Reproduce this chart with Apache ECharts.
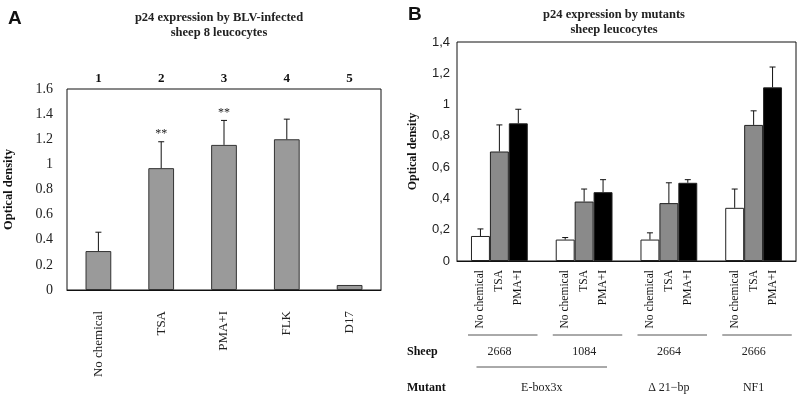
<!DOCTYPE html>
<html><head><meta charset="utf-8">
<script src="https://cdn.jsdelivr.net/npm/echarts@6/dist/echarts.min.js"></script>
<style>html,body{margin:0;padding:0;background:#fff}#c{width:800px;height:405px}</style>
</head><body><div id="c"></div>
<script>
// ---------- Panel A data ----------
const lanesA = ['1', '2', '3', '4', '5'];
const catsA = ['No chemical', 'TSA', 'PMA+I', 'FLK', 'D17'];
const valsA = [0.31, 0.97, 1.155, 1.20, 0.04];
const errA = [0.15, 0.21, 0.195, 0.16, 0];
const starsA = ['', '**', '**', '', ''];

// ---------- Panel B data ----------
const treatmentsB = ['No chemical', 'TSA', 'PMA+I'];
const sheepB = ['2668', '1084', '2664', '2666'];
const mutantNamesB = ['E-box3x', '\u0394 21\u2212bp', 'NF1'];
const mutantFirstB = [0, 2, 3];
const mutantLastB = [1, 2, 3];
const noChemB = [0.16, 0.137, 0.137, 0.34];
const noChemErrB = [0.045, 0.013, 0.043, 0.12];
const tsaB = [0.70, 0.38, 0.37, 0.87];
const tsaErrB = [0.17, 0.08, 0.13, 0.09];
const pmaB = [0.88, 0.44, 0.50, 1.11];
const pmaErrB = [0.09, 0.08, 0.02, 0.13];

const SERIF = '"Liberation Serif","Times New Roman",serif';
const SANS = '"Liberation Sans",Arial,sans-serif';
const CAT_GAP = 0.33;

function errRender(pos, count) {
  return function (params, api) {
    const idx = api.value(0), v = api.value(1), e = api.value(2);
    const star = starsAt(params.seriesIndex, idx);
    const base = api.coord([idx, v]);
    const top = api.coord([idx, v + e]);
    let dx = 0;
    if (count > 1) {
      const band = api.size([1, 0])[0];
      const bw = band * (1 - CAT_GAP) / count;
      dx = (pos - (count - 1) / 2) * bw;
    }
    const x = base[0] + dx;
    const children = [];
    const st = { stroke: '#111', lineWidth: 1 };
    if (e > 0) {
      children.push({ type: 'line', shape: { x1: x, y1: base[1], x2: x, y2: top[1] }, style: st });
      children.push({ type: 'line', shape: { x1: x - 3, y1: top[1], x2: x + 3, y2: top[1] }, style: st });
    }
    if (star) {
      children.push({ type: 'text', x: x, y: top[1] - 2,
        style: { text: star, align: 'center', verticalAlign: 'bottom', font: '12px ' + SERIF, fill: '#222' } });
    }
    return { type: 'group', children: children };
  };
}
let starSeriesIndex = -1;
function starsAt(si, idx) { return si === starSeriesIndex ? starsA[idx] : ''; }

const chart = echarts.init(document.getElementById('c'), null, { renderer: 'canvas' });

const series = [
  { type: 'bar', xAxisIndex: 0, yAxisIndex: 0, data: valsA, barWidth: '41%',
    itemStyle: { color: '#9a9a9a', borderColor: '#333', borderWidth: 1 }, silent: true },
  { type: 'custom', xAxisIndex: 0, yAxisIndex: 0, z: 5, renderItem: errRender(0, 1),
    data: valsA.map((v, i) => [i, v, errA[i]]) }
];
starSeriesIndex = 1;
const colorsB = ['#ffffff', '#8a8a8a', '#000000'];
const valsB = [noChemB, tsaB, pmaB];
const errsB = [noChemErrB, tsaErrB, pmaErrB];
treatmentsB.forEach((t, k) => {
  series.push({ type: 'bar', name: t, xAxisIndex: 2, yAxisIndex: 1, data: valsB[k],
    barGap: '0%', barCategoryGap: (CAT_GAP * 100) + '%',
    itemStyle: { color: colorsB[k], borderColor: '#222', borderWidth: 1 },
    label: { show: true, formatter: '{a}', position: 'bottom', distance: 9, rotate: 90,
      align: 'right', verticalAlign: 'middle', fontFamily: SERIF, fontSize: 11.5, color: '#111' },
    silent: true });
});
treatmentsB.forEach((t, k) => {
  series.push({ type: 'custom', xAxisIndex: 2, yAxisIndex: 1, z: 5, renderItem: errRender(k, 3),
    data: valsB[k].map((v, i) => [i, v, errsB[k][i]]) });
});

const option = {
  animation: false,
  backgroundColor: '#fff',
  title: [
    { text: 'A', left: 3, top: 4, textStyle: { fontFamily: SANS, fontWeight: 'bold', fontSize: 19, color: '#111' } },
    { text: 'p24 expression by BLV-infected\nsheep 8 leucocytes', left: 214, textAlign: 'center', top: 5,
      textStyle: { fontFamily: SERIF, fontWeight: 'bold', fontSize: 12.5, lineHeight: 15, color: '#222' } },
    { text: 'B', left: 403, top: 0, textStyle: { fontFamily: SANS, fontWeight: 'bold', fontSize: 19, color: '#111' } },
    { text: 'p24 expression by mutants\nsheep leucocytes', left: 609, textAlign: 'center', top: 2,
      textStyle: { fontFamily: SERIF, fontWeight: 'bold', fontSize: 12.5, lineHeight: 15, color: '#222' } }
  ],
  grid: [
    { left: 67, right: 419, top: 89, bottom: 115, show: true, borderColor: '#111', borderWidth: 1, containLabel: false },
    { left: 457, right: 4, top: 42, bottom: 144, show: true, borderColor: '#111', borderWidth: 1, containLabel: false }
  ],
  xAxis: [
    { type: 'category', gridIndex: 0, data: catsA, position: 'bottom',
      axisLine: { lineStyle: { color: '#111' } }, axisTick: { show: false },
      axisLabel: { rotate: 90, margin: 21, interval: 0, fontFamily: SERIF, fontSize: 13, color: '#222' } },
    { type: 'category', gridIndex: 0, data: lanesA, position: 'top',
      axisLine: { show: false }, axisTick: { show: false },
      axisLabel: { margin: 4, fontFamily: SERIF, fontWeight: 'bold', fontSize: 13, color: '#111' } },
    { type: 'category', gridIndex: 1, data: sheepB, position: 'bottom',
      axisLine: { lineStyle: { color: '#111' } }, axisTick: { show: false }, axisLabel: { show: false } },
    { type: 'category', gridIndex: 1, data: sheepB, position: 'bottom',
      axisLine: { show: false }, axisTick: { show: false },
      axisLabel: { margin: 85, interval: 0, fontFamily: SERIF, fontSize: 12, color: '#222' } }
  ],
  yAxis: [
    { type: 'value', gridIndex: 0, min: 0, max: 1.6, interval: 0.2,
      name: 'Optical density', nameLocation: 'middle', nameRotate: 90, nameGap: 52,
      nameTextStyle: { fontFamily: SERIF, fontWeight: 'bold', fontSize: 12.5, color: '#111' },
      axisLine: { show: false }, axisTick: { show: false }, splitLine: { show: false },
      axisLabel: { margin: 14, fontFamily: SERIF, fontSize: 14, color: '#222' } },
    { type: 'value', gridIndex: 1, min: 0, max: 1.4, interval: 0.2,
      name: 'Optical density', nameLocation: 'middle', nameRotate: 90, nameGap: 38,
      nameTextStyle: { fontFamily: SERIF, fontWeight: 'bold', fontSize: 12, color: '#111' },
      axisLine: { show: false }, axisTick: { show: false }, splitLine: { show: false },
      axisLabel: { margin: 7, fontFamily: SANS, fontSize: 13, color: '#222',
        formatter: v => String(+v.toFixed(1)).replace('.', ',') } }
  ],
  series: series
};
chart.setOption(option);

// decorations for panel B (group underlines, Sheep/Mutant rows), placed from the axis scale
const px = i => chart.convertToPixel({ xAxisIndex: 2 }, i);
const y0 = chart.convertToPixel({ yAxisIndex: 1 }, 0);
const band = px(1) - px(0);
const lineStyle = { stroke: '#555', lineWidth: 1 };
const gfx = [];
sheepB.forEach((s, i) => {
  gfx.push({ type: 'line', shape: { x1: px(i) - 0.37 * band, y1: y0 + 74, x2: px(i) + 0.45 * band, y2: y0 + 74 }, style: lineStyle });
});
gfx.push({ type: 'line', shape: { x1: px(mutantFirstB[0]) - 0.27 * band, y1: y0 + 106,
  x2: px(mutantLastB[0]) + 0.27 * band, y2: y0 + 106 }, style: lineStyle });
gfx.push({ type: 'text', x: 407, y: y0 + 91, style: { text: 'Sheep', font: 'bold 12px ' + SERIF, fill: '#111', verticalAlign: 'middle' } });
gfx.push({ type: 'text', x: 407, y: y0 + 127, style: { text: 'Mutant', font: 'bold 12px ' + SERIF, fill: '#111', verticalAlign: 'middle' } });
mutantNamesB.forEach((m, j) => {
  const cx = (px(mutantFirstB[j]) + px(mutantLastB[j])) / 2;
  gfx.push({ type: 'text', x: cx, y: y0 + 127, style: { text: m, font: '12px ' + SERIF, fill: '#222', align: 'center', verticalAlign: 'middle' } });
});
chart.setOption({ graphic: gfx });
</script></body></html>
